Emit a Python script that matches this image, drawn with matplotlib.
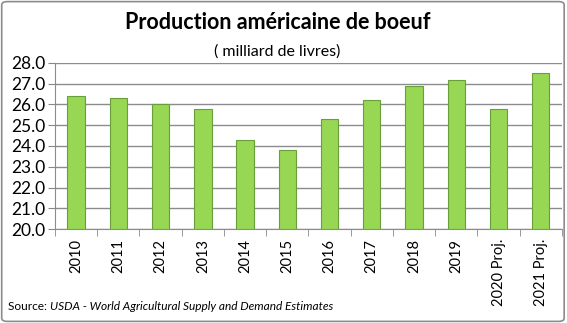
import numpy as np
import matplotlib.pyplot as plt
from matplotlib.patches import FancyBboxPatch

years = ['2010', '2011', '2012', '2013', '2014', '2015', '2016', '2017',
         '2018', '2019', '2020 Proj.', '2021 Proj.']
production = [26.4, 26.3, 26.0, 25.8, 24.3, 23.8, 25.3, 26.2, 26.9, 27.2, 25.8, 27.5]
yticks = [20.0, 21.0, 22.0, 23.0, 24.0, 25.0, 26.0, 27.0, 28.0]

plt.rcParams['font.family'] = ['Lato', 'DejaVu Sans']

fig = plt.figure(figsize=(5.67, 3.23), dpi=100)
ax = fig.add_axes([0.097, 0.291, 0.894, 0.514])

x = np.arange(len(years))
ax.bar(x, [v - 20 for v in production], bottom=20, width=0.41,
       color='#97D753', edgecolor='#6A9E3A', linewidth=0.8, zorder=3)

ax.set_xlim(-0.5, len(years) - 0.5)
ax.set_ylim(20, 28)
ax.set_yticks(yticks)
ax.set_yticklabels(['%.1f' % t for t in yticks], fontsize=12.5)
ax.set_xticks(x)
ax.set_xticklabels(years, rotation=90, fontsize=10.5)
ax.set_xticks(np.arange(-0.5, len(years)), minor=True)
ax.tick_params(axis='x', which='major', length=0, pad=7)
ax.tick_params(axis='x', which='minor', length=5, color='#888888')
ax.tick_params(axis='y', length=5, color='#888888', pad=2)

ax.grid(axis='y', color='#8c8c8c', linewidth=1, zorder=0)
for side in ['top', 'right']:
    ax.spines[side].set_visible(False)
for side in ['left', 'bottom']:
    ax.spines[side].set_color('#8c8c8c')

fig.text(0.489, 0.93, 'Production américaine de boeuf', ha='center', va='center',
         fontsize=15.5, fontweight='bold')
fig.text(0.489, 0.84, '( milliard de livres)', ha='center', va='center', fontsize=11.5)

src = fig.text(0.014, 0.05, 'Source: ', ha='left', va='center', fontsize=8.6)
fig.canvas.draw()
bb = src.get_window_extent().transformed(fig.transFigure.inverted())
fig.text(bb.x1, 0.05, 'USDA - World Agricultural Supply and Demand Estimates',
         ha='left', va='center', fontsize=8.6, style='italic')

frame = FancyBboxPatch((0.003, 0.005), 0.992, 0.99, boxstyle='round,pad=0,rounding_size=0.01',
                       transform=fig.transFigure, fill=False, edgecolor='#8c8c8c', linewidth=1.2)
fig.patches.append(frame)

fig.savefig('out.png', dpi=100)
